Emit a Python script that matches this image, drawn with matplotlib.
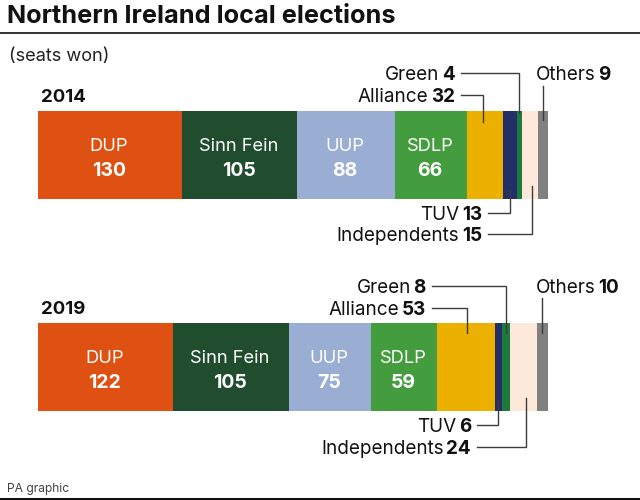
import matplotlib
matplotlib.use("Agg")
import matplotlib.pyplot as plt
from matplotlib.transforms import blended_transform_factory

plt.rcParams['font.family'] = ['Inter', 'DejaVu Sans']

parties = ["DUP", "Sinn Fein", "UUP", "SDLP", "Alliance", "TUV", "Green", "Independents", "Others"]
seats_2014 = [130, 105, 88, 66, 32, 13, 4, 15, 9]
seats_2019 = [122, 105, 75, 59, 53, 6, 8, 24, 10]
colors = ["#DF5113", "#1F4D2E", "#9AADD3", "#439C3E", "#EBB000", "#233068", "#1D7A3C", "#FDE9D9", "#808080"]

W, H = 640, 500
fig = plt.figure(figsize=(6.4, 5), dpi=100)

# bars live in an axes scaled in seats, y is in pixels from the top
ax = fig.add_axes([38 / W, 0, 510 / W, 1])
ax.set_xlim(0, 462)
ax.set_ylim(H, 0)
ax.axis('off')

# everything else gets placed in picture pixels
pix = fig.add_axes([0, 0, 1, 1])
pix.set_xlim(0, W)
pix.set_ylim(H, 0)
pix.axis('off')
pix.patch.set_alpha(0)

leader = blended_transform_factory(ax.transData, pix.transData)
renderer = fig.canvas.get_renderer()
LINE = "#3c3c3c"


def pair_label(x, y, name, value, ha='right', size=13.6):
    # regular name and bold number sit side by side on one baseline
    if ha == 'right':
        t = pix.text(x, y, str(value), ha='right', va='baseline', fontsize=size, fontweight='bold', color="#111111")
        w = t.get_window_extent(renderer).width
        pix.text(x - w - 2.5, y, name, ha='right', va='baseline', fontsize=size, color="#111111")
    else:
        t = pix.text(x, y, name, ha='left', va='baseline', fontsize=size, color="#111111")
        w = t.get_window_extent(renderer).width
        pix.text(x + w + 2.5, y, str(value), ha='left', va='baseline', fontsize=size, fontweight='bold', color="#111111")


def draw_year(year, seats, top, lab):
    left = 0
    mids = {}
    for name, val, col in zip(parties, seats, colors):
        ax.barh(top + 44, val, height=88, left=left, color=col, linewidth=0)
        mids[name] = left + val / 2
        left += val

    for i, name in enumerate(parties[:4]):
        ax.text(mids[name] - 0.8, top + 40, name, ha='center', va='baseline', fontsize=13.2, color="white")
        ax.text(mids[name] - 0.8, top + 65, str(seats[i]), ha='center', va='baseline', fontsize=14, fontweight='bold', color="white")

    pix.text(41, top - 9, year, ha='left', va='baseline', fontsize=13.4, fontweight='bold', color="#111111")

    # leaders above the bar
    for name, ly, end in [("Green", lab["green_y"], lab["green_end"]), ("Alliance", lab["alliance_y"], lab["alliance_end"])]:
        i = parties.index(name)
        pair_label(lab["up_x"] - 6, ly + 7, name, seats[i])
        start = ax.transData.inverted().transform(pix.transData.transform((lab["up_x"], 0)))[0]
        mid = mids[name] + (lab["alliance_nudge"] if name == "Alliance" else 0)
        ax.plot([start, mid, mid], [ly, ly, end], color=LINE, lw=1, solid_joinstyle='miter', transform=leader)

    # leaders under the bar
    for name, ly, end in [("TUV", lab["tuv_y"], lab["tuv_end"]), ("Independents", lab["ind_y"], lab["ind_end"])]:
        i = parties.index(name)
        pair_label(lab["down_x"] - 6, ly + 7, name, seats[i])
        start = ax.transData.inverted().transform(pix.transData.transform((lab["down_x"], 0)))[0]
        mid = mids[name] + (2 if name == "Independents" else 0)
        ax.plot([start, mid, mid], [ly, ly, end], color=LINE, lw=1, solid_joinstyle='miter', transform=leader)

    i = parties.index("Others")
    pair_label(536, lab["green_y"] + 7, "Others", seats[i], ha='left')
    ax.plot([mids["Others"], mids["Others"]], [lab["others_top"], lab["others_end"]], color=LINE, lw=1, transform=leader)


draw_year("2014", seats_2014, 111, dict(up_x=461, down_x=488, green_y=73, green_end=113, alliance_y=95, alliance_end=122, alliance_nudge=-2,
                                        tuv_y=213, tuv_end=190, ind_y=234, ind_end=186, others_top=86, others_end=120))
draw_year("2019", seats_2019, 323, dict(up_x=432, down_x=477, green_y=286, green_end=333, alliance_y=308, alliance_end=333, alliance_nudge=1,
                                        tuv_y=425, tuv_end=400, ind_y=447, ind_end=398, others_top=298, others_end=333))

pix.text(7, 23, "Northern Ireland local elections", ha='left', va='baseline', fontsize=18.2, fontweight='bold', color="#111111")
pix.plot([0, W], [32.5, 32.5], color="#111111", lw=1.2)
pix.text(9, 61, "(seats won)", ha='left', va='baseline', fontsize=13.1, color="#222222")
pix.text(7, 492, "PA graphic", ha='left', va='baseline', fontsize=8.7, color="#444444")
pix.plot([0, W], [498.5, 498.5], color="#111111", lw=2.2)

fig.savefig("out.png", dpi=100)
